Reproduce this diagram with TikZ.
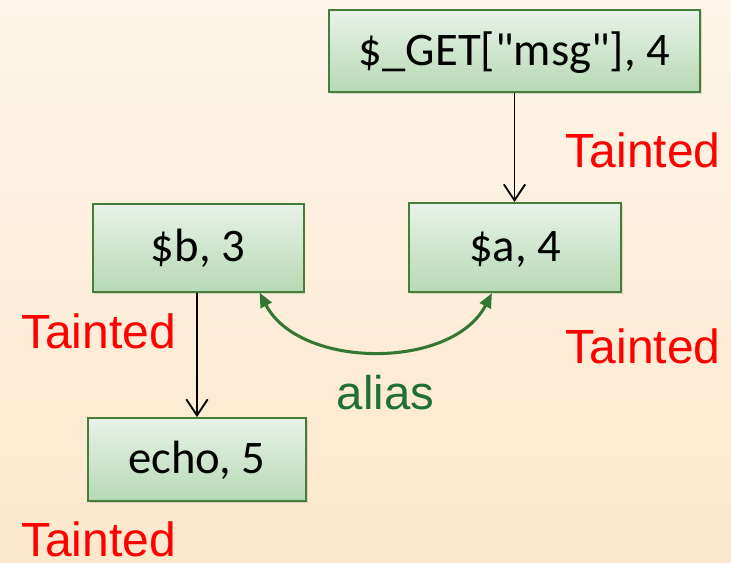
\documentclass[tikz,border=0pt]{standalone}
\usepackage{fontspec}
\setmainfont{Liberation Sans}
\newfontfamily\boxfont{Carlito}
\usetikzlibrary{arrows.meta,shadows}
\definecolor{bgtop}{RGB}{253,245,233}
\definecolor{bgbot}{RGB}{253,232,204}
\definecolor{boxtop}{RGB}{233,242,233}
\definecolor{boxbot}{RGB}{182,217,180}
\definecolor{boxline}{RGB}{70,125,55}
\definecolor{aliasgreen}{RGB}{32,112,52}
\definecolor{arcgreen}{RGB}{50,120,50}
\tikzset{
  varbox/.style={draw=boxline, line width=1.5pt, top color=boxtop, bottom color=boxbot,
    inner sep=0pt, text height=21.5pt, text depth=0pt,
    font=\boxfont\fontsize{35}{42}\selectfont,
    drop shadow={shadow xshift=1.2pt, shadow yshift=-1.5pt, opacity=0.25}},
  taint/.style={text=red, inner sep=0pt, anchor=base, font=\fontsize{36}{42}\selectfont},
  flow/.style={draw=black, line width=1.4pt, -{Straight Barb[length=12pt,width=16pt,line width=1.4pt]}},
  aliasarrow/.style={draw=arcgreen, line width=2.3pt,
    {Triangle[length=11pt,width=9pt]}-{Triangle[length=11pt,width=9pt]}}
}
\begin{document}
\begin{tikzpicture}[x=0.75pt,y=-0.75pt]
\shade[top color=bgtop, bottom color=bgbot] (0,0) rectangle (731,562);
\useasboundingbox (0,0) rectangle (731,562);
\node[varbox, minimum width=278.25pt, minimum height=61.5pt] (get) at (514.5,51) {\$\_GET["msg"], 4};
\node[varbox, minimum width=158.25pt, minimum height=66pt] (b) at (198,247.5) {\$b, 3};
\node[varbox, minimum width=159pt, minimum height=66.75pt] (a) at (515,247.5) {\$a, 4};
\node[varbox, minimum width=163.5pt, minimum height=62.25pt] (echo) at (197,459.5) {echo, 5};
\draw[flow] (get.south) -- (get.south |- a.north);
\draw[flow] (b.south -| echo.north) -- (echo.north);
\draw[aliasarrow] ([xshift=-33.75pt]b.south east) .. controls +(40,77) and +(-40,77) .. ([xshift=63pt]a.south west);
\node[taint] (t1) at (643,167.5) {Tainted};
\node[taint] (t2) at (643,363) {Tainted};
\node[taint] (t3) at (98.5,348) {Tainted};
\node[taint] (t4) at (98.5,556) {Tainted};
\node[text=aliasgreen, inner sep=0pt, anchor=base, font=\fontsize{35.5}{42}\selectfont] (al) at (385.5,409) {alias};
\end{tikzpicture}
\end{document}
